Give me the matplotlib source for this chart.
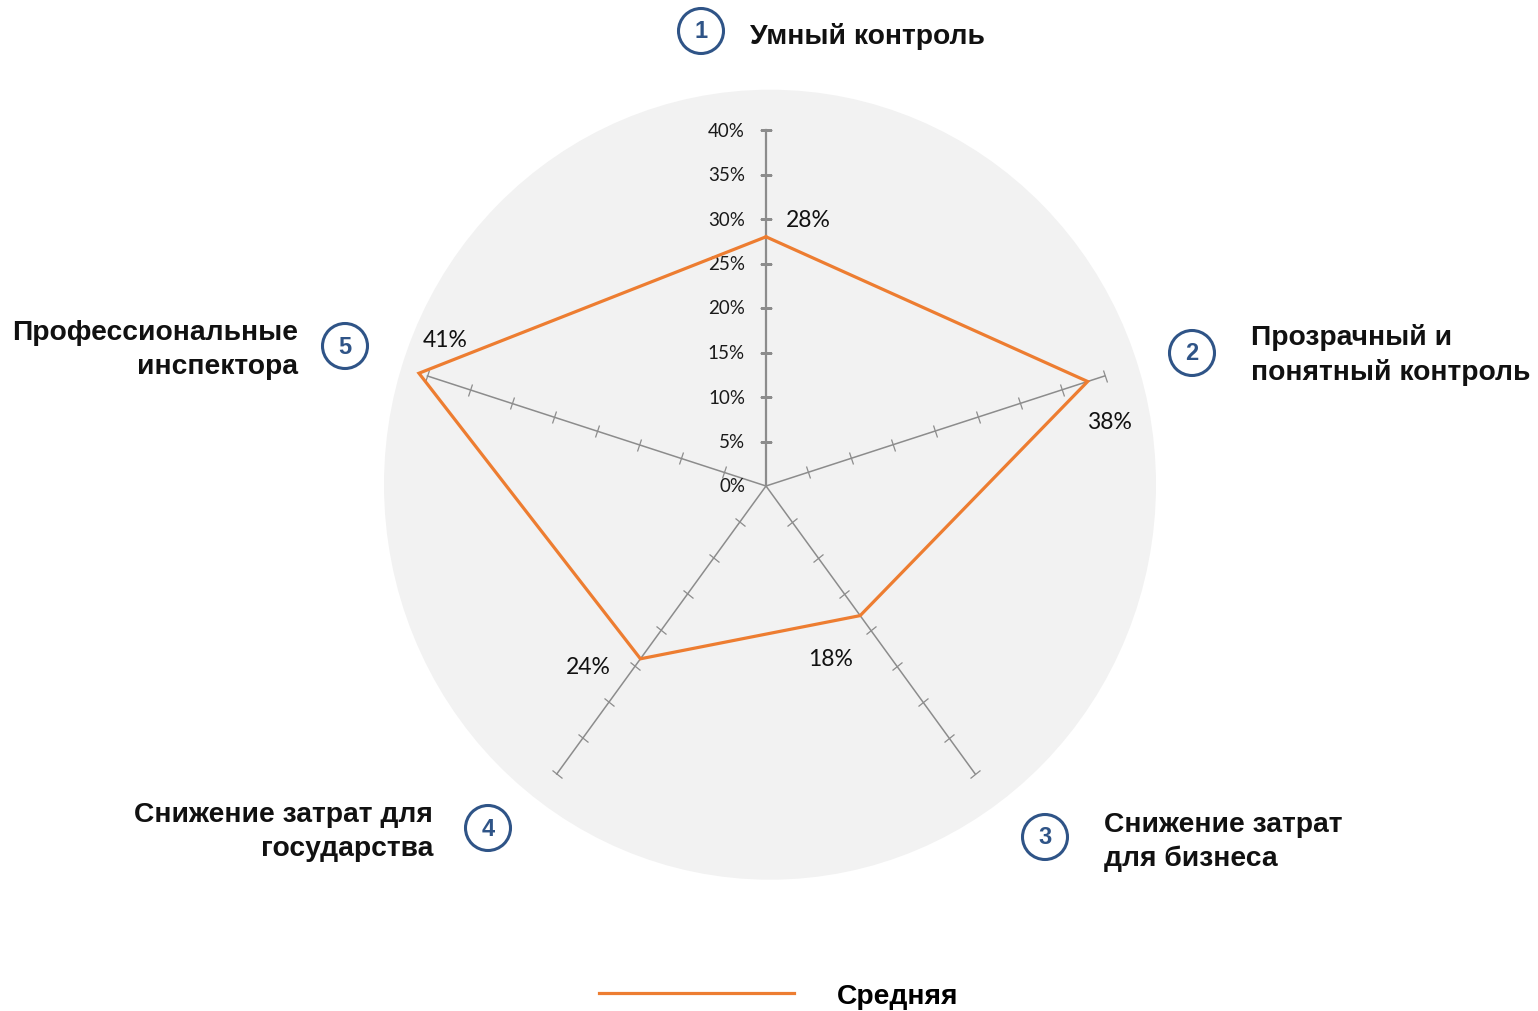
import numpy as np
import matplotlib
matplotlib.use("Agg")
import matplotlib.pyplot as plt
from matplotlib.markers import MarkerStyle
from matplotlib.transforms import Affine2D
from matplotlib.lines import Line2D
from matplotlib.patches import Circle, Ellipse

# data
categories = ["Умный контроль", "Прозрачный и\nпонятный контроль", "Снижение затрат\nдля бизнеса",
              "Снижение затрат для\nгосударства", "Профессиональные\nинспектора"]
numbers = ["1", "2", "3", "4", "5"]
values = [0.28, 0.38, 0.18, 0.24, 0.41]
ticks = [0.05, 0.10, 0.15, 0.20, 0.25, 0.30, 0.35, 0.40]
tick_labels = ["0%", "5%", "10%", "15%", "20%", "25%", "30%", "35%", "40%"]
series_name = "Средняя"

W, H = 1538, 1012
ORANGE = "#ED7D31"
BLUE = "#2F5487"
GREY = "#8C8C8C"
BOLD = "Liberation Sans"
NUMF = "Lato"

def px(x, y):
    return x / W, 1 - y / H

fig = plt.figure(figsize=(W / 100, H / 100), dpi=100)

# grey background disc (slightly oval in the original)
fig.patches.append(Ellipse((770, H - 485.7), 772, 790, transform=None,
                           facecolor="#F2F2F2", edgecolor="none", zorder=-5))

cx, cy, R = 766, 487, 387
ax = fig.add_axes([(cx - R) / W, 1 - (cy + R) / H, 2 * R / W, 2 * R / H], projection="polar")
ax.set_zorder(1)
ax.set_theta_zero_location("N")
ax.set_theta_direction(-1)
ax.set_ylim(0, 0.40 * R / 356)
ax.patch.set_visible(False)
ax.spines["polar"].set_visible(False)
ax.grid(False)
ax.set_xticks([])
ax.set_yticks([])

n = len(values)
angles = np.arange(n) * 2 * np.pi / n

# spokes with tick marks
for i, a in enumerate(angles):
    ax.plot([a, a], [0, 0.40], color=GREY, lw=1.6 if i == 0 else 1.1, zorder=2)
    deg = np.degrees(a)
    m = MarkerStyle("_", transform=Affine2D().rotate_deg(180 - deg))
    ax.plot([a] * len(ticks), ticks, ls="none", marker=m, markersize=9,
            markeredgewidth=0.9, color=GREY, zorder=2)

# radial tick labels on first spoke
for t, lab in zip([0.0] + ticks, tick_labels):
    ax.annotate(lab, xy=(0, t), xytext=(-21, 0), textcoords="offset pixels",
                ha="right", va="center", fontsize=13.5, family=NUMF, color="#1a1a1a")

# data polygon
ang_c = np.append(angles, angles[0])
val_c = values + [values[0]]
ax.plot(ang_c, val_c, color=ORANGE, lw=2.3, zorder=3, solid_joinstyle="miter")

# data labels
offsets = [(42, 17), (22, -40), (-30, -43), (-52, -8), (26, 34)]
for a, v, off in zip(angles, values, offsets):
    ax.annotate(f"{round(v * 100)}%", xy=(a, v), xytext=off, textcoords="offset pixels",
                ha="center", va="center", fontsize=16.5, family=NUMF, color="#111111")

# category labels with numbered circles
circ_pos = [(701, 32), (1192, 354), (1045, 838), (488, 829), (345, 347)]
text_pos = [(750, 37, "left"), (1251, 355, "left"), (1104, 842, "left"),
            (433, 832, "right"), (298, 350, "right")]
for num, cat, (ccx, ccy), (tx, ty, ha) in zip(numbers, categories, circ_pos, text_pos):
    x0, y0 = px(ccx, ccy)
    fig.patches.append(Circle((ccx, H - ccy), 22.5, transform=None, facecolor="white",
                              edgecolor=BLUE, lw=2.2, zorder=2))
    fig.text(x0, y0, num, ha="center", va="center", fontsize=17, fontweight="bold",
             family=BOLD, color=BLUE, zorder=3)
    x1, y1 = px(tx, ty)
    fig.text(x1, y1, cat, ha=ha, va="center", fontsize=20.3, fontweight="bold",
             family=BOLD, color="#111111", linespacing=1.38, multialignment=ha)

# legend
handle = Line2D([], [], color=ORANGE, lw=2.3)
leg = fig.legend([handle], [series_name], loc="center", bbox_to_anchor=px(779, 997),
                 frameon=False, handlelength=6.9, handletextpad=1.55,
                 prop={"family": BOLD, "weight": "bold", "size": 20.3})

fig.savefig("out.png", dpi=100)
